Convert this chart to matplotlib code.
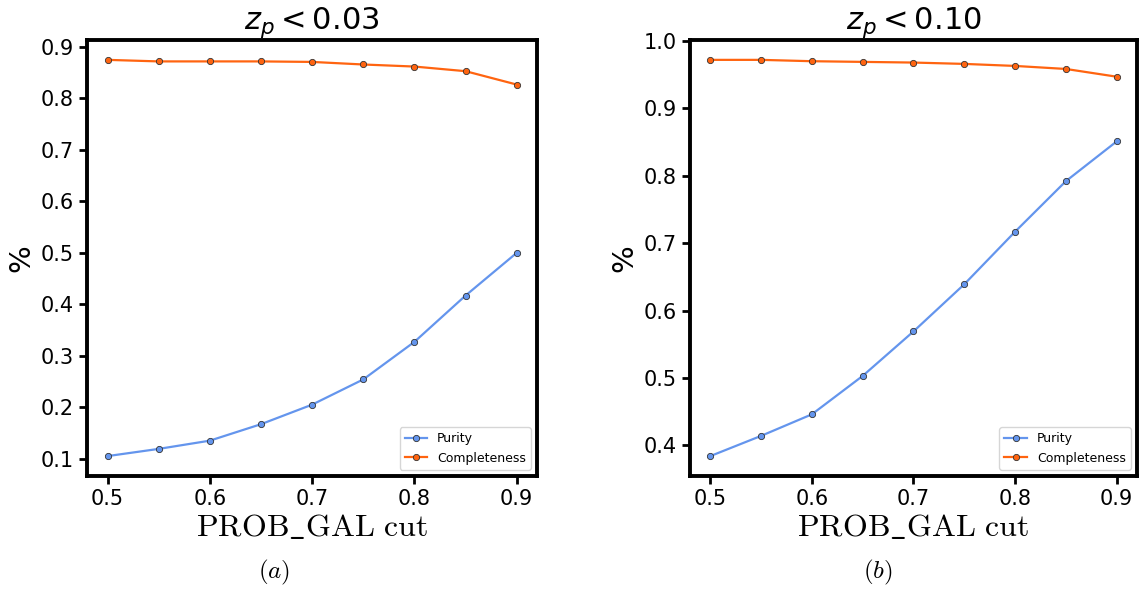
import matplotlib.pyplot as plt
import numpy as np

cuts = [0.5, 0.55, 0.6, 0.65, 0.7, 0.75, 0.8, 0.85, 0.9]

# z_p < 0.03
purity_a = [0.105, 0.119, 0.135, 0.167, 0.205, 0.254, 0.327, 0.417, 0.500]
compl_a = [0.875, 0.872, 0.872, 0.872, 0.871, 0.866, 0.862, 0.853, 0.827]

# z_p < 0.10
purity_b = [0.384, 0.414, 0.446, 0.503, 0.569, 0.639, 0.717, 0.792, 0.851]
compl_b = [0.972, 0.972, 0.970, 0.969, 0.968, 0.966, 0.963, 0.9585, 0.947]

titles = [r'$z_p < 0.03$', r'$z_p < 0.10$']
captions = ['(a)', '(b)']
caption_x = [0.240, 0.769]

blue = '#6495ED'
orange = '#FF6410'

fig = plt.figure(figsize=(11.41, 5.89), dpi=100)
boxes = [[0.0763, 0.192, 0.3945, 0.74], [0.6047, 0.192, 0.3918, 0.74]]
data = [(purity_a, compl_a), (purity_b, compl_b)]

for i in range(2):
    ax = fig.add_axes(boxes[i])
    pur, comp = data[i]
    ax.plot(cuts, pur, '-o', color=blue, lw=1.6, ms=4.5, mfc=blue,
            mec='#333333', mew=0.6, label='Purity')
    ax.plot(cuts, comp, '-o', color=orange, lw=1.6, ms=4.5, mfc=orange,
            mec='#333333', mew=0.6, label='Completeness')
    ax.set_title(titles[i], fontsize=22, pad=5)
    ax.set_xlabel(r'$\mathrm{PROB\_GAL\ cut}$', fontsize=23, math_fontfamily='cm', labelpad=2)
    ax.set_ylabel('%', fontsize=21)
    ax.tick_params(labelsize=15, width=2, length=6)
    ax.set_xticks([0.5, 0.6, 0.7, 0.8, 0.9])
    for s in ax.spines.values():
        s.set_linewidth(2.8)
    ax.legend(loc='lower right', fontsize=9, handlelength=1.8)
    fig.text(caption_x[i], 0.028, r'$\mathit{' + captions[i] + '}$', ha='center', va='center',
             fontsize=18, math_fontfamily='cm')

plt.savefig('out.png', dpi=100)
